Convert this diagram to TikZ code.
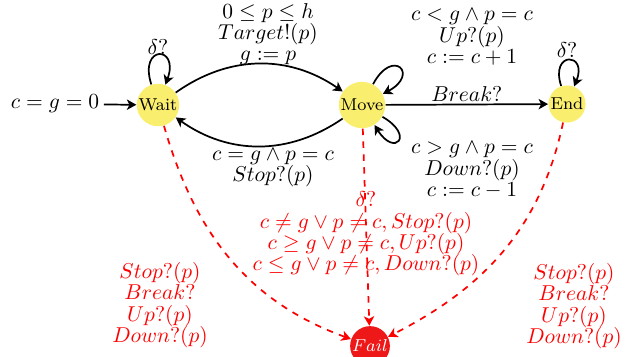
\documentclass[tikz,border=0pt]{standalone}
\usetikzlibrary{arrows.meta}
\definecolor{stateyellow}{RGB}{250,238,110}
\definecolor{failred}{RGB}{238,24,24}
\begin{document}
\begin{tikzpicture}[x=0.4651pt,y=0.4651pt,
  >={Stealth[length=4.4pt,width=4.8pt,inset=1.2pt]},
  state/.style={circle,fill=stateyellow,inner sep=0.4pt,font=\footnotesize},
  failstate/.style={circle,fill=failred,inner sep=0.4pt,font=\footnotesize,text=white},
  trans/.style={->,line width=0.8pt},
  failtrans/.style={->,line width=0.8pt,red,dashed},
  lbl/.style={align=center,inner sep=1pt,font={\fontsize{10}{9.9}\selectfont\lineskiplimit=-10pt}},
  faillbl/.style={lbl,text=red},
]
\useasboundingbox (0,0) rectangle (628,356);
\node[state] (wait) at (158,251) {Wait};
\node[state] (move) at (362,251) {Move};
\node[state] (end) at (567,252) {End};
\node[failstate] (fail) at (370,10) {$Fail$};
\node[inner sep=2pt] (init) at (55,252) {$c = g = 0$};

\draw[trans] (init) -- (wait);
\draw[trans] (wait.108) .. controls +(108:42) and +(70:42) .. (wait.70);
\node[lbl] (wloop) at (158,309) {$\delta?$};
\draw[trans] (end.108) .. controls +(108:37) and +(68:37) .. (end.68);
\node[lbl] (eloop) at (567,306) {$\delta?$};

\draw[trans] (wait) to[bend left=35] (move);
\draw[trans] (move) to[bend left=35] (wait);
\node[lbl] (wm) at (268,322) {$0\leq p\leq h$\\$Target!(p)$\\$g:=p$};
\node[lbl] (mw) at (273,188) {$c = g\wedge p = c$\\$Stop?(p)$};

\draw[trans] (move.62) .. controls +(62:42) and +(28:42) .. (move.28);
\draw[trans] (move.-30) .. controls +(-30:38) and +(-58:38) .. (move.-58);
\node[lbl] (up) at (472,319) {$c < g \wedge p = c$\\$Up?(p)$\\$c := c+1$};
\node[lbl] (down) at (472,186) {$c > g\wedge p = c$\\$Down?(p)$\\$c := c-1$};

\draw[trans] (move) -- node[lbl,above] {$Break?$} (end);

\draw[failtrans] (move) -- (fail);
\draw[failtrans] (wait) to[out=-74,in=160] (fail);
\draw[failtrans] (end) to[out=-102,in=27] (fail);
\node[faillbl] (mf) at (366,122) {$\delta?$\\$c\neq g\vee p\neq c, Stop?(p)$\\$c\geq g\vee p\neq c, Up?(p)$\\$c\leq g\vee p\neq c, Down?(p)$};
\node[faillbl] (wf) at (160,51) {$Stop?(p)$\\$Break?$\\$Up?(p)$\\$Down?(p)$};
\node[faillbl] (ef) at (574,50) {$Stop?(p)$\\$Break?$\\$Up?(p)$\\$Down?(p)$};
\end{tikzpicture}
\end{document}
